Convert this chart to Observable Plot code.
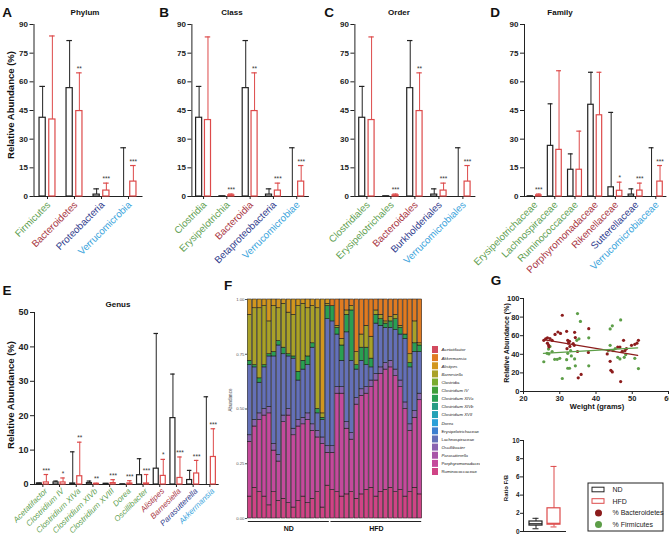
<!DOCTYPE html>
<html><head><meta charset="utf-8">
<script src="https://cdn.jsdelivr.net/npm/d3@7"></script>
<script src="https://cdn.jsdelivr.net/npm/@observablehq/plot@0.6"></script>
<style>
body{margin:0;background:#fff;}
#fig{position:relative;width:669px;height:536px;overflow:hidden;background:#fff;}
#fig svg{overflow:visible;}
#fig .clip svg{overflow:hidden;}
</style></head>
<body><div id="fig"></div>
<script>
// ---------- colours ----------
const ND_COLOR = "#222222", HFD_COLOR = "#dd4a4a";
const C_GREEN = "#5f9f52", C_RED = "#a8353f", C_BLUE = "#2e3a8c", C_LBLUE = "#3aa4dc";
const BACT_DOT = "#8c1c1c", FIRM_DOT = "#5d9e48";
const FONT = "'Liberation Sans', Arial, Helvetica, sans-serif";

// ---------- A: Phylum ----------
const phylumCats = ["Firmicutes","Bacteroidetes","Proteobacteria","Verrucomicrobia"];
const phylumColors = [C_GREEN, C_RED, C_BLUE, C_LBLUE];
const phylumND = [41.2, 56.7, 1.0, 0];
const phylumNDerr = [57.6, 81.6, 4.0, 25.5];
const phylumHFD = [40.3, 44.7, 3.1, 7.8];
const phylumHFDerr = [84.0, 64.7, 7.0, 16.2];
const phylumSig = ["", "**", "***", "***"];

// ---------- B: Class ----------
const classCats = ["Clostridia","Erysipelotrichia","Bacteroidia","Betaproteobacteria","Verrucomicrobiae"];
const classColors = [C_GREEN, C_GREEN, C_RED, C_BLUE, C_LBLUE];
const classND = [41.2, 0.1, 56.7, 1.0, 0];
const classNDerr = [57.6, 0.2, 81.6, 4.0, 25.5];
const classHFD = [40.0, 0.6, 44.7, 3.1, 7.8];
const classHFDerr = [83.5, 1.3, 64.7, 7.0, 16.2];
const classSig = ["", "***", "**", "***", "***"];

// ---------- C: Order ----------
const orderCats = ["Clostridiales","Erysipelotrichales","Bacteroidales","Burkholderiales","Verrucomicrobiales"];
const orderColors = [C_GREEN, C_GREEN, C_RED, C_BLUE, C_LBLUE];
const orderND = [41.2, 0.1, 56.7, 1.0, 0];
const orderNDerr = [57.6, 0.2, 81.6, 4.0, 25.5];
const orderHFD = [40.0, 0.6, 44.7, 3.1, 7.8];
const orderHFDerr = [83.5, 1.3, 64.7, 7.0, 16.2];
const orderSig = ["", "***", "**", "***", "***"];

// ---------- D: Family ----------
const familyCats = ["Erysipelotrichaceae","Lachnospiraceae","Ruminococcaceae","Porphyromonadaceae","Rikenellaceae","Sutterellaceae","Verrucomicrobiaceae"];
const familyColors = [C_GREEN, C_GREEN, C_GREEN, C_RED, C_RED, C_BLUE, C_LBLUE];
const familyND = [0.1, 26.5, 14.0, 48.0, 4.8, 1.0, 0];
const familyNDerr = [0.2, 48.5, 22.3, 65.0, 44.0, 4.0, 25.5];
const familyHFD = [0.6, 24.4, 14.0, 42.5, 3.0, 3.1, 7.8];
const familyHFDerr = [1.3, 65.8, 34.2, 65.0, 7.5, 7.0, 16.2];
const familySig = ["***", "", "", "", "*", "***", "***"];

// ---------- E: Genus ----------
const genusCats = ["Acetatifactor","Clostridium IV","Clostridium XIVa","Clostridium XIVb","Clostridium XVIII","Dorea","Oscillibacter","Alistipes","Barnesiella","Parasutterella","Akkermansia"];
const genusColors = [C_GREEN, C_GREEN, C_GREEN, C_GREEN, C_GREEN, C_GREEN, C_GREEN, C_RED, C_RED, C_BLUE, C_LBLUE];
const genusND = [0.3, 0.6, 0.3, 0.4, 0.2, 0.05, 2.7, 4.6, 19.3, 1.3, 0];
const genusNDerr = [0.4, 1.0, 9.5, 1.0, 0.3, 0.1, 7.5, 43.9, 32.1, 4.1, 25.5];
const genusHFD = [0.6, 0.6, 2.4, 0.2, 0.4, 0.3, 0.3, 2.5, 1.9, 3.2, 8.0];
const genusHFDerr = [2.9, 1.9, 12.3, 0.35, 1.4, 1.1, 2.9, 7.3, 8.0, 7.0, 16.2];
const genusSig = ["***", "*", "**", "**", "***", "***", "***", "*", "***", "***", "***"];

// ---------- F: per-sample composition (fractions) ----------
const fNames = ["Acetatifactor","Akkermansia","Alistipes","Barnesiella","Clostridia","Clostridium IV","Clostridium XIVa","Clostridium XIVb","Clostridium XVII","Dorea","Erysipelotrichaceae","Lachnospiraceae","Oscillibacter","Parasutterella","Porphyromonadaceae","Ruminococcaceae"];
const fColors = ["#d24a5e","#e07b22","#d2961e","#a9a128","#7aab2e","#3f9f3a","#2a9f52","#279c84","#25a2b6","#2a9fd8","#3c7fd0","#6470b8","#8a63b0","#a854a8","#c44a9c","#cf4486"];
const fItalic = ["Acetatifactor","Akkermansia","Alistipes","Barnesiella","Clostridium IV","Clostridium XIVa","Clostridium XIVb","Clostridium XVII","Dorea","Oscillibacter","Parasutterella"];

const ndAlistipes   = [.07,.04,.04,.03,.10,.03,.04,.02,.06,.07,.03,.02,.04,.03,.04,.52,.02];
const ndBarnesiella = [.21,.26,.32,.27,.15,.21,.15,.20,.19,.19,.30,.26,.22,.17,.46,.02,.01];
const ndClostridium = [.02,.01,.02,.01,.01,.02,.02,.03,.01,.01,.04,.04,.04,.02,.02,.01,.06];
const ndLachno      = [.32,.24,.14,.19,.23,.40,.50,.28,.24,.32,.18,.22,.22,.35,.08,.08,.58];
const ndOscill      = [.03,.03,.03,.03,.03,.03,.03,.03,.03,.03,.03,.03,.03,.03,.03,.03,.03];
const ndPorphyro    = [.25,.28,.33,.37,.42,.19,.18,.35,.40,.33,.34,.33,.38,.31,.25,.29,.15];
const ndRumino      = [.10,.14,.12,.10,.06,.12,.08,.09,.07,.05,.08,.10,.07,.09,.12,.05,.15];

const hfdAkkermansia = [.03,.12,.18,.05,.03,.24,.16,.12,.17,.05,.07,.10,.08,.07,.12,.16,.25,.10,.20];
const hfdBarnesiella = [0,.01,.03,.02,.02,.06,.06,.10,.10,.02,.02,.01,.02,.02,.01,0,.04,.10,.01];
const hfdClostridium = [.07,.03,.07,.08,.23,.02,.06,.08,.04,.04,.03,.02,.03,.05,.03,.02,.02,.04,.03];
const hfdLachno      = [.57,.24,.12,.41,.33,.13,.13,.10,.06,.23,.19,.16,.15,.18,.21,.29,.26,.27,.19];
const hfdOscill      = [.03,.03,.03,.03,.03,.03,.03,.03,.03,.03,.03,.03,.03,.03,.03,.03,.03,.03,.03];
const hfdPorphyro    = [.17,.45,.47,.30,.24,.43,.45,.44,.46,.53,.54,.55,.55,.53,.47,.40,.28,.32,.43];
const hfdRumino      = [.13,.12,.10,.11,.12,.09,.11,.13,.14,.10,.12,.13,.14,.12,.13,.10,.12,.14,.11];

// ---------- G: scatter ----------
const bactWeight = [25.6,26.1,26.6,26.6,26.9,27.0,27.3,27.9,28.7,29.5,30.2,30.7,31.9,32.2,32.4,32.7,32.0,32.8,33.7,34.1,34.0,34.3,34.9,35.1,35.9,38.0,37.9,43.1,43.9,44.1,44.5,46.0,46.6,46.8,47.2,47.6,48.0,48.4,49.8,50.7,51.3,51.7];
const bactPct    = [55,56.6,57.7,52,50,48,57,55,61.4,64,62.5,82,64.7,55,52,54,46,48.5,51.5,63.6,49.6,58,43,14.7,18.4,67.6,42,40.4,32.4,22.8,21,47.8,47.8,10.7,43,55,44,46,49.6,50.7,52,55];
const firmWeight = [25.6,26.5,26.9,27.0,27.3,27.9,28.6,29.3,30.0,30.7,31.9,32.2,32.7,32.2,33.0,33.2,34.1,34.3,34.9,34.7,35.3,35.7,38.0,38.0,43.9,44.5,43.9,44.7,46.0,46.6,46.8,47.3,47.8,48.2,50.7,51.7,45.3,43.4];
const firmPct    = [32,41,45.6,40.4,48.5,43,34.6,34.6,35.7,14,34.2,25,25,41,44,38.2,35,27.6,83.8,55,56.6,75.4,57.7,27.6,67.3,70.6,49.6,44,36.8,35,77,43,36.8,39.7,35.7,24.6,46,44];
const bactTrend = [{w: 25.5, v: 55.8}, {w: 51.5, v: 38.8}];
const firmTrend = [{w: 25.5, v: 41.0}, {w: 51.5, v: 47.0}];

// ---------- G: F/B ratio box plot ----------
const boxGroups = ["ND", "HFD"];
const boxMin = [0.3, 0.5];
const boxQ1 = [0.65, 0.75];
const boxMedian = [0.85, 0.9];
const boxQ3 = [1.1, 2.55];
const boxMax = [1.45, 7.15];

// =================================================
const fig = document.getElementById("fig");
function place(node, left, top, w, h, clip) {
  const d = document.createElement("div");
  d.style.cssText = `position:absolute;left:${left}px;top:${top}px;width:${w}px;height:${h}px;`;
  if (clip) { d.className = "clip"; d.style.overflow = "hidden"; }
  d.appendChild(node);
  fig.appendChild(d);
}
function txt(s, x, y, size, opts = {}) {
  const d = document.createElement("div");
  d.textContent = s;
  d.style.cssText = `position:absolute;left:${x}px;top:${y}px;font-family:${FONT};font-size:${size}px;font-weight:${opts.weight || "bold"};font-style:${opts.italic ? "italic" : "normal"};white-space:nowrap;line-height:1;color:${opts.color || "#111"};transform:translate(-50%,-50%)${opts.rotate ? ` rotate(${opts.rotate}deg)` : ""};`;
  fig.appendChild(d);
}

function barPanel(cfg) {
  const n = cfg.cats.length;
  const rows = [];
  cfg.cats.forEach((c, i) => {
    rows.push({i, c, v: cfg.nd[i], e: cfg.ndErr[i], s: "", col: ND_COLOR, xc: i - cfg.off});
    rows.push({i, c, v: cfg.hfd[i], e: cfg.hfdErr[i], s: cfg.sig[i], col: HFD_COLOR, xc: i + cfg.off});
  });
  const hw = cfg.bw / 2, cw = cfg.bw * 0.45;
  const labels = cfg.cats.map((c, i) => ({i, c, col: cfg.colors[i]}));
  return Plot.plot({
    width: cfg.width, height: cfg.height,
    marginLeft: cfg.mL, marginRight: cfg.mR, marginTop: cfg.mT, marginBottom: cfg.mB,
    x: {domain: [-0.5, n - 0.5], ticks: d3.range(n), tickFormat: () => "", tickSize: 3, line: true, label: null},
    y: {domain: [0, cfg.yMax], ticks: cfg.yTicks, tickSize: 4, tickPadding: 2, line: true, label: null},
    color: {type: "identity"},
    style: {fontFamily: FONT, fontSize: cfg.tickFont + "px", fontWeight: "bold", color: "#222", background: "transparent", overflow: "visible"},
    marks: [
      Plot.ruleX(rows, {x: "xc", y1: "v", y2: "e", stroke: "col", strokeWidth: 1}),
      Plot.ruleY(rows, {x1: d => d.xc - cw, x2: d => d.xc + cw, y: "e", stroke: "col", strokeWidth: 1.2}),
      Plot.rect(rows, {x1: d => d.xc - hw, x2: d => d.xc + hw, y1: 0, y2: "v", fill: "white", stroke: "col", strokeWidth: 1.2}),
      Plot.text(rows.filter(d => d.s), {x: "xc", y: "e", text: "s", dy: -4, fontSize: 6.5, fontWeight: "normal", fill: "#333"}),
      Plot.text(labels, {x: "i", frameAnchor: "bottom", text: "c", rotate: -45, textAnchor: "end", dx: cfg.ldx, dy: cfg.ldy,
        fill: "col", fontSize: cfg.labelFont, fontWeight: "normal", fontStyle: cfg.italic ? "italic" : "normal"})
    ]
  });
}

const top90 = [0, 15, 30, 45, 60, 75, 90];
place(barPanel({cats: phylumCats, colors: phylumColors, nd: phylumND, ndErr: phylumNDerr, hfd: phylumHFD, hfdErr: phylumHFDerr, sig: phylumSig,
  width: 160, height: 270, mL: 33.5, mR: 18.5, mT: 24, mB: 74, yMax: 90, yTicks: top90, off: 0.18, bw: 0.23, tickFont: 8, labelFont: 9.8, ldx: 3.5, ldy: 9}), 0, 0, 160, 270);
place(barPanel({cats: classCats, colors: classColors, nd: classND, ndErr: classNDerr, hfd: classHFD, hfdErr: classHFDerr, sig: classSig,
  width: 160, height: 270, mL: 31.4, mR: 12.1, mT: 24, mB: 74, yMax: 90, yTicks: top90, off: 0.19, bw: 0.26, tickFont: 8, labelFont: 9.8, ldx: 3.5, ldy: 9}), 160, 0, 160, 270);
place(barPanel({cats: orderCats, colors: orderColors, nd: orderND, ndErr: orderNDerr, hfd: orderHFD, hfdErr: orderHFDerr, sig: orderSig,
  width: 160, height: 270, mL: 29.4, mR: 10.6, mT: 24, mB: 74, yMax: 90, yTicks: top90, off: 0.195, bw: 0.25, tickFont: 8, labelFont: 9.8, ldx: 3.5, ldy: 9}), 325, 0, 160, 270);
place(barPanel({cats: familyCats, colors: familyColors, nd: familyND, ndErr: familyNDerr, hfd: familyHFD, hfdErr: familyHFDerr, sig: familySig,
  width: 179, height: 270, mL: 34, mR: 3.6, mT: 24, mB: 74, yMax: 90, yTicks: top90, off: 0.21, bw: 0.27, tickFont: 8, labelFont: 9.8, ldx: 3.5, ldy: 9}), 490, 0, 179, 270);
place(barPanel({cats: genusCats, colors: genusColors, nd: genusND, ndErr: genusNDerr, hfd: genusHFD, hfdErr: genusHFDerr, sig: genusSig,
  width: 225, height: 251, mL: 34, mR: 7.3, mT: 27, mB: 52, yMax: 50, yTicks: [0, 10, 20, 30, 40, 50], off: 0.21, bw: 0.3, tickFont: 9, labelFont: 8, italic: true, ldx: 5, ldy: 7}), 0, 285, 225, 251);

// ---------- F: stacked bars ----------
const fRows = [];
const ndLayers = [["Ruminococcaceae", ndRumino], ["Porphyromonadaceae", ndPorphyro], ["Oscillibacter", ndOscill], ["Lachnospiraceae", ndLachno], ["Clostridium XIVa", ndClostridium], ["Barnesiella", ndBarnesiella], ["Alistipes", ndAlistipes]];
const hfdLayers = [["Ruminococcaceae", hfdRumino], ["Porphyromonadaceae", hfdPorphyro], ["Oscillibacter", hfdOscill], ["Lachnospiraceae", hfdLachno], ["Clostridium XIVa", hfdClostridium], ["Barnesiella", hfdBarnesiella], ["Akkermansia", hfdAkkermansia]];
const nND = ndRumino.length, nHFD = hfdRumino.length;
for (let s = 0; s < nND; s++) for (const [g, arr] of ndLayers) fRows.push({x1: s, x2: s + 1, group: g, value: arr[s]});
for (let s = 0; s < nHFD; s++) for (const [g, arr] of hfdLayers) fRows.push({x1: nND + s, x2: nND + s + 1, group: g, value: arr[s]});
const spans = [{name: "ND", start: 0, end: nND}, {name: "HFD", start: nND, end: nND + nHFD}];

place(Plot.plot({
  width: 200, height: 246, marginLeft: 22, marginRight: 3, marginTop: 9, marginBottom: 18,
  x: {domain: [0, nND + nHFD], axis: null},
  y: {domain: [0, 1], ticks: [0, 0.25, 0.5, 0.75, 1], tickFormat: d3.format(".2f"), tickSize: 2, tickPadding: 1, label: null},
  color: {domain: fNames, range: fColors},
  style: {fontFamily: FONT, fontSize: "4.3px", color: "#555", background: "transparent", overflow: "visible"},
  marks: [
    Plot.rectY(fRows, {x1: "x1", x2: "x2", y: "value", fill: "group", stroke: "#151515", strokeWidth: 0.55, insetLeft: 0.35, insetRight: 0.35}),
    Plot.ruleY(spans, {x1: "start", x2: "end", y: () => 0, dy: 3, stroke: "#222", strokeWidth: 1, insetLeft: 0.8, insetRight: 0.8}),
    Plot.text(spans, {x: d => (d.start + d.end) / 2, y: () => 0, dy: 10.5, text: "name", fontSize: 7, fontWeight: "bold", fill: "#111"})
  ]
}), 225, 290, 200, 246);

const fLegend = fNames.map((n, i) => ({n, i, it: fItalic.includes(n)}));
place(Plot.plot({
  width: 52, height: 132, margin: 0,
  x: {domain: [0, 52], axis: null},
  y: {domain: [0, 15], range: [5.5, 127.5], axis: null},
  color: {domain: fNames, range: fColors},
  style: {fontFamily: FONT, background: "transparent"},
  marks: [
    Plot.rect(fLegend, {x1: () => 4, x2: () => 10, y1: d => d.i - 0.43, y2: d => d.i + 0.43, fill: "n"}),
    Plot.text(fLegend.filter(d => d.it), {x: () => 13, y: "i", text: "n", textAnchor: "start", fontSize: 4.3, fontStyle: "italic", fill: "#222"}),
    Plot.text(fLegend.filter(d => !d.it), {x: () => 13, y: "i", text: "n", textAnchor: "start", fontSize: 4.3, fill: "#222"})
  ]
}), 428, 344, 52, 132, true);

// ---------- G: scatter ----------
const bactRows = bactWeight.map((w, i) => ({w, v: bactPct[i]}));
const firmRows = firmWeight.map((w, i) => ({w, v: firmPct[i]}));
place(Plot.plot({
  width: 179, height: 130, marginLeft: 33, marginRight: 1, marginTop: 13, marginBottom: 24,
  x: {domain: [20, 60], ticks: [20, 30, 40, 50, 60], tickSize: 3, tickPadding: 1, line: true, label: null},
  y: {domain: [0, 100], ticks: [0, 20, 40, 60, 80, 100], tickSize: 3, tickPadding: 1, line: true, label: null},
  style: {fontFamily: FONT, fontSize: "7.5px", fontWeight: "bold", color: "#222", background: "transparent", overflow: "visible"},
  marks: [
    Plot.dot(firmRows, {x: "w", y: "v", r: 1.6, fill: FIRM_DOT}),
    Plot.dot(bactRows, {x: "w", y: "v", r: 1.6, fill: BACT_DOT}),
    Plot.line(bactTrend, {x: "w", y: "v", stroke: BACT_DOT, strokeWidth: 1.2}),
    Plot.line(firmTrend, {x: "w", y: "v", stroke: FIRM_DOT, strokeWidth: 1.2})
  ]
}), 490, 285, 179, 130);

// ---------- G: box plot ----------
const boxRows = boxGroups.map((g, i) => ({g, min: boxMin[i], q1: boxQ1[i], med: boxMedian[i], q3: boxQ3[i], max: boxMax[i], col: i === 0 ? ND_COLOR : HFD_COLOR}));
place(Plot.plot({
  width: 80, height: 104, marginLeft: 33, marginRight: 5, marginTop: 8, marginBottom: 5,
  x: {domain: boxGroups, paddingInner: 0.3, paddingOuter: 0.28, line: true, tickSize: 0, tickFormat: () => "", label: null},
  y: {domain: [0, 10], ticks: [0, 2, 4, 6, 8, 10], tickSize: 3, tickPadding: 1, line: true, label: null},
  color: {type: "identity"},
  style: {fontFamily: FONT, fontSize: "6.5px", fontWeight: "bold", color: "#222", background: "transparent", overflow: "visible"},
  marks: [
    Plot.ruleX(boxRows, {x: "g", y1: "min", y2: "max", stroke: "col", strokeWidth: 1}),
    Plot.barY(boxRows, {x: "g", y1: "q1", y2: "q3", fill: "white", stroke: "col", strokeWidth: 1.2}),
    Plot.tickY(boxRows, {x: "g", y: "med", stroke: "col", strokeWidth: 1.2}),
    Plot.tickY(boxRows, {x: "g", y: "min", stroke: "col", strokeWidth: 1, insetLeft: 3.5, insetRight: 3.5}),
    Plot.tickY(boxRows, {x: "g", y: "max", stroke: "col", strokeWidth: 1, insetLeft: 3.5, insetRight: 3.5})
  ]
}), 490, 432, 80, 104);

// ---------- G: legend ----------
const gLegend = [
  {label: "ND", kind: "box", col: ND_COLOR},
  {label: "HFD", kind: "box", col: HFD_COLOR},
  {label: "% Bacteroidetes", kind: "dot", col: BACT_DOT},
  {label: "% Firmicutes", kind: "dot", col: FIRM_DOT}
].map((d, i) => ({...d, i}));
place(Plot.plot({
  width: 76, height: 49, margin: 0,
  x: {domain: [0, 76], axis: null},
  y: {domain: [0, 3], range: [7.5, 42], axis: null},
  color: {type: "identity"},
  style: {fontFamily: FONT, background: "transparent", overflow: "visible"},
  marks: [
    Plot.frame({stroke: "#222", strokeWidth: 1, inset: 0.5}),
    Plot.rect(gLegend.filter(d => d.kind === "box"), {x1: () => 5, x2: () => 17, y1: d => d.i - 0.2, y2: d => d.i + 0.2, fill: "white", stroke: "col", strokeWidth: 1}),
    Plot.dot(gLegend.filter(d => d.kind === "dot"), {x: () => 11, y: "i", r: 3.5, fill: "col"}),
    Plot.text(gLegend, {x: () => 25, y: "i", text: "label", textAnchor: "start", fontSize: 7, fill: "#222"})
  ]
}), 587, 482, 76, 49);

// ---------- HTML titles / letters ----------
txt("A", 7, 13, 13.5); txt("B", 164, 13, 13.5); txt("C", 329, 13, 13.5); txt("D", 495, 13, 13.5);
txt("E", 7, 291, 13.5); txt("F", 228, 286, 13.5); txt("G", 496, 281, 13.5);
txt("Phylum", 85, 13, 8); txt("Class", 232, 13, 8); txt("Order", 399, 13, 8); txt("Family", 560, 13, 8);
txt("Genus", 118, 305, 8);
txt("Relative Abundance (%)", 11, 105, 9.5, {rotate: -90});
txt("Relative Abundance (%)", 11, 395, 9.5, {rotate: -90});
txt("Abundance", 231, 400, 4.5, {weight: "normal", rotate: -90, color: "#444"});
txt("Relative Abundance (%)", 506, 343, 7, {rotate: -90});
txt("Weight (grams)", 597, 407, 7.5);
txt("Ratio F/B", 506, 488, 6, {rotate: -90});
</script>
</body></html>
